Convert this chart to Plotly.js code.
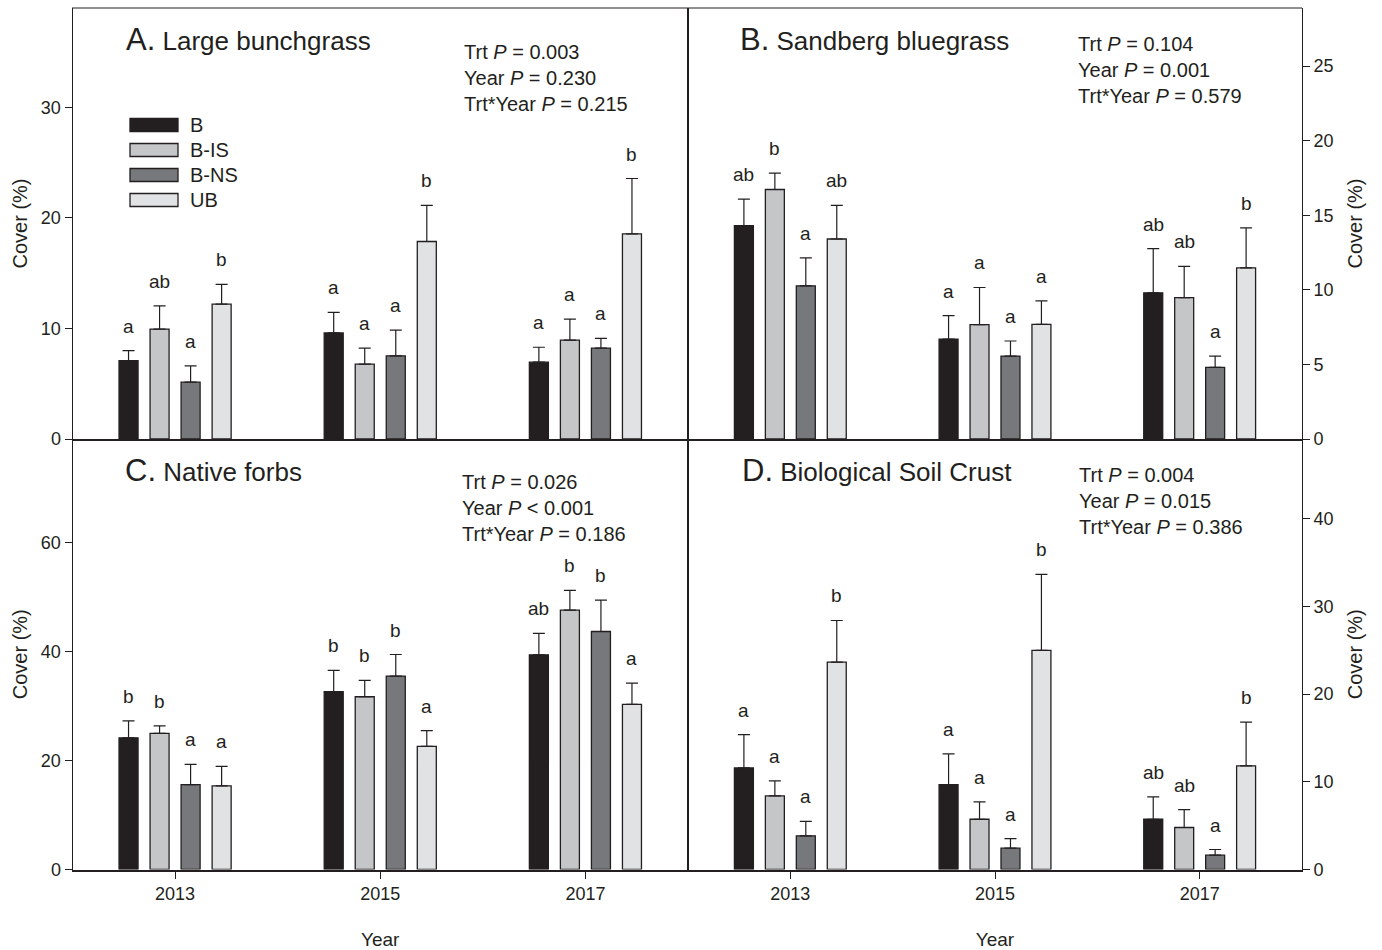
<!DOCTYPE html>
<html>
<head>
<meta charset="utf-8">
<script src="https://cdn.plot.ly/plotly-3.0.1.min.js"></script>
<style>html,body{margin:0;padding:0;background:#fff}#chart{width:1382px;height:950px}</style>
</head>
<body>
<div id="chart"></div>
<script>
// ---------- data ----------
const years = ['2013', '2015', '2017'];
const treatments = ['B', 'B-IS', 'B-NS', 'UB'];
const treatmentColors = ['#231f20', '#c5c6c8', '#77787b', '#e1e2e3'];

// Panel A: Large bunchgrass
const bunchMean = [[7.1, 9.6, 6.95], [9.95, 6.77, 8.95], [5.14, 7.53, 8.22], [12.2, 17.87, 18.57]];
const bunchSE   = [[0.9, 1.85, 1.35], [2.1, 1.45, 1.9], [1.48, 2.33, 0.88], [1.8, 3.27, 5.0]];
const bunchLetters = [['a', 'a', 'a'], ['ab', 'a', 'a'], ['a', 'a', 'a'], ['b', 'b', 'b']];
const bunchStats = ['Trt <i>P</i> = 0.003', 'Year <i>P</i> = 0.230', 'Trt*Year <i>P</i> = 0.215'];

// Panel B: Sandberg bluegrass
const sandMean = [[14.3, 6.7, 9.8], [16.73, 7.67, 9.48], [10.27, 5.56, 4.8], [13.41, 7.69, 11.48]];
const sandSE   = [[1.78, 1.57, 2.96], [1.1, 2.49, 2.09], [1.88, 1.01, 0.76], [2.26, 1.57, 2.67]];
const sandLetters = [['ab', 'a', 'ab'], ['b', 'a', 'ab'], ['a', 'a', 'a'], ['ab', 'a', 'b']];
const sandStats = ['Trt <i>P</i> = 0.104', 'Year <i>P</i> = 0.001', 'Trt*Year <i>P</i> = 0.579'];

// Panel C: Native forbs
const forbMean = [[24.2, 32.66, 39.45], [25.0, 31.74, 47.65], [15.6, 35.54, 43.73], [15.35, 22.63, 30.34]];
const forbSE   = [[3.1, 3.94, 3.95], [1.4, 3.0, 3.65], [3.7, 3.96, 5.75], [3.61, 2.87, 3.91]];
const forbLetters = [['b', 'b', 'ab'], ['b', 'b', 'b'], ['a', 'b', 'b'], ['a', 'a', 'a']];
const forbStats = ['Trt <i>P</i> = 0.026', 'Year <i>P</i> &lt; 0.001', 'Trt*Year <i>P</i> = 0.186'];

// Panel D: Biological Soil Crust
const crustMean = [[11.58, 9.68, 5.73], [8.39, 5.73, 4.79], [3.84, 2.43, 1.63], [23.66, 24.99, 11.81]];
const crustSE   = [[3.8, 3.5, 2.55], [1.71, 1.98, 2.05], [1.66, 1.1, 0.65], [4.74, 8.66, 5.01]];
const crustLetters = [['a', 'a', 'ab'], ['a', 'a', 'ab'], ['a', 'a', 'a'], ['b', 'b', 'b']];
const crustStats = ['Trt <i>P</i> = 0.004', 'Year <i>P</i> = 0.015', 'Trt*Year <i>P</i> = 0.386'];

const panelLetters = ['A.', 'B.', 'C.', 'D.'];
const panelNames = ['Large bunchgrass', 'Sandberg bluegrass', 'Native forbs', 'Biological Soil Crust'];
const yTickStep = [10, 5, 20, 10];
const yMax = [39, 28.9, 79.1, 49.1];

// ---------- layout helpers ----------
const W = 1382, H = 950;
const px = v => v / W;
const py = v => 1 - v / H;
const FONT = 'Liberation Sans, Arial, Helvetica, sans-serif';
const INK = '#231f20';
const BARGAP = 0.395, GROUPGAP = 0.387;

const panels = [
  {mean: bunchMean, se: bunchSE, letters: bunchLetters, stats: bunchStats, xa: 'x',  ya: 'y'},
  {mean: sandMean,  se: sandSE,  letters: sandLetters,  stats: sandStats,  xa: 'x2', ya: 'y2'},
  {mean: forbMean,  se: forbSE,  letters: forbLetters,  stats: forbStats,  xa: 'x3', ya: 'y3'},
  {mean: crustMean, se: crustSE, letters: crustLetters, stats: crustStats, xa: 'x4', ya: 'y4'}
];

const xDomL = [px(72.5), px(688)], xDomR = [px(688), px(1302)];
const yDomT = [py(439), py(8)], yDomB = [py(869.5), py(439)];

const traces = [];
const annotations = [];
const shapes = [];
const slot = (1 - BARGAP) / treatments.length;

panels.forEach((p, pi) => {
  treatments.forEach((t, ti) => {
    traces.push({
      type: 'bar', name: t, x: years, y: p.mean[ti],
      xaxis: p.xa, yaxis: p.ya, showlegend: false,
      marker: {color: treatmentColors[ti], line: {color: INK, width: 1.3}},
      error_y: {type: 'data', symmetric: false, array: p.se[ti], arrayminus: p.se[ti].map(() => 0),
                color: INK, thickness: 1.2, width: 6},
      hoverinfo: 'y'
    });
    years.forEach((yr, gi) => {
      annotations.push({
        xref: p.xa, yref: p.ya,
        x: gi + (ti - (treatments.length - 1) / 2) * slot,
        y: p.mean[ti][gi] + p.se[ti][gi],
        text: p.letters[ti][gi], showarrow: false,
        xanchor: 'center', yanchor: 'bottom', yshift: 12,
        font: {family: FONT, size: 19, color: INK}
      });
    });
  });
});

// panel titles and statistics
const titlePos = [[124, 51], [738, 51], [123, 482], [740, 482]];
const statPos = [[462, 58], [1076, 50], [460, 488], [1077, 481]];
panels.forEach((p, pi) => {
  annotations.push({
    xref: 'paper', yref: 'paper', x: px(titlePos[pi][0]), y: py(titlePos[pi][1] + 8),
    xanchor: 'left', yanchor: 'bottom', showarrow: false,
    text: '<span style="font-size:31px">' + panelLetters[pi] + '</span> ' + panelNames[pi],
    font: {family: FONT, size: 26, color: INK}
  });
  annotations.push({
    xref: 'paper', yref: 'paper', x: px(statPos[pi][0]), y: py(statPos[pi][1] - 19),
    xanchor: 'left', yanchor: 'top', align: 'left', showarrow: false,
    text: p.stats.join('<br>'),
    font: {family: FONT, size: 20, color: INK}
  });
});

// legend (drawn inside panel A)
const legendRows = [125, 150, 175, 200];
treatments.forEach((t, ti) => {
  shapes.push({type: 'rect', xref: 'paper', yref: 'paper',
    x0: px(130), x1: px(178), y0: py(legendRows[ti] + 6.5), y1: py(legendRows[ti] - 6.5),
    fillcolor: treatmentColors[ti], line: {color: INK, width: 1.3}});
  annotations.push({xref: 'paper', yref: 'paper', x: px(188), y: py(legendRows[ti]),
    xanchor: 'left', yanchor: 'middle', showarrow: false, text: t,
    font: {family: FONT, size: 20, color: INK}});
});

// top frame line
shapes.push({type: 'line', xref: 'paper', yref: 'paper', x0: px(72), x1: px(1302), y0: py(8), y1: py(8),
  line: {color: INK, width: 1}});

function xAxis(dom, anchor, showLabels) {
  return {
    domain: dom, anchor: anchor, type: 'category', range: [-0.5, 2.5],
    showline: true, linecolor: INK, linewidth: 2, mirror: false,
    ticks: showLabels ? 'outside' : '', ticklen: 7, tickwidth: 1, tickcolor: INK,
    showticklabels: showLabels, showgrid: false, zeroline: false,
    tickfont: {family: FONT, size: 18, color: INK},
    title: showLabels ? {text: 'Year', font: {family: FONT, size: 19, color: INK}, standoff: 36} : {text: ''},
    fixedrange: true
  };
}
function yAxis(dom, anchor, side, pi) {
  return {
    domain: dom, anchor: anchor, side: side, range: [0, yMax[pi]], dtick: yTickStep[pi], tick0: 0,
    showline: true, linecolor: INK, linewidth: 1, mirror: true,
    ticks: 'outside', ticklen: 7, tickwidth: 1, tickcolor: INK,
    showgrid: false, zeroline: false,
    tickfont: {family: FONT, size: 18, color: INK},
    title: {text: 'Cover (%)', font: {family: FONT, size: 20, color: INK}, standoff: side === 'left' ? 7 : 15},
    fixedrange: true
  };
}

const layout = {
  width: W, height: H,
  margin: {l: 0, r: 0, t: 0, b: 0},
  paper_bgcolor: '#ffffff', plot_bgcolor: '#ffffff',
  barmode: 'group', bargap: BARGAP, bargroupgap: GROUPGAP,
  showlegend: false,
  font: {family: FONT, color: INK},
  xaxis:  xAxis(xDomL, 'y', false),
  xaxis2: xAxis(xDomR, 'y2', false),
  xaxis3: xAxis(xDomL, 'y3', true),
  xaxis4: xAxis(xDomR, 'y4', true),
  yaxis:  yAxis(yDomT, 'x', 'left', 0),
  yaxis2: yAxis(yDomT, 'x2', 'right', 1),
  yaxis3: yAxis(yDomB, 'x3', 'left', 2),
  yaxis4: yAxis(yDomB, 'x4', 'right', 3),
  annotations: annotations,
  shapes: shapes
};

Plotly.newPlot('chart', traces, layout, {staticPlot: true, displayModeBar: false});
</script>
</body>
</html>
